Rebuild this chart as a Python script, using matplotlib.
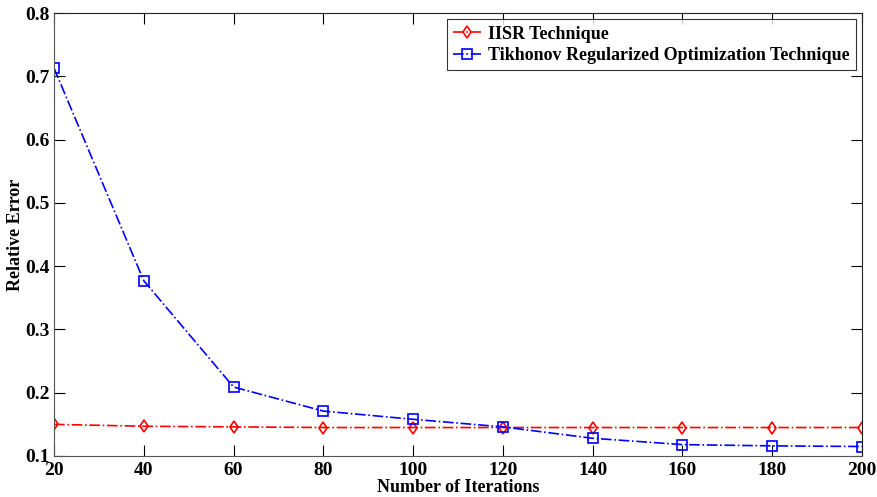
import matplotlib
matplotlib.use("Agg")
import matplotlib.pyplot as plt

iterations = [20, 40, 60, 80, 100, 120, 140, 160, 180, 200]
iisr_error = [0.150, 0.147, 0.146, 0.145, 0.145, 0.145, 0.145, 0.145, 0.145, 0.145]
tikhonov_error = [0.713, 0.377, 0.209, 0.171, 0.158, 0.146, 0.128, 0.118, 0.116, 0.115]

plt.rcParams["font.family"] = "Liberation Serif"
plt.rcParams["font.weight"] = "bold"

fig = plt.figure(figsize=(8.78, 4.97), dpi=100)
ax = fig.add_axes([0.0615, 0.0825, 0.9203, 0.8913])

ax.plot(iterations, iisr_error, color="red", linestyle="-.", marker="d",
        markersize=6, markerfacecolor="none", markeredgewidth=1.2, linewidth=1.2,
        label="IISR Technique")
ax.plot(iterations, tikhonov_error, color="blue", linestyle="-.", marker="s",
        markersize=7, markerfacecolor="none", markeredgewidth=1.2, linewidth=1.2,
        label="Tikhonov Regularized Optimization Technique")

ax.set_xlim(20, 200)
ax.set_ylim(0.1, 0.8)
ax.set_xticks(range(20, 201, 20))
ax.set_yticks([0.1, 0.2, 0.3, 0.4, 0.5, 0.6, 0.7, 0.8])
ax.set_yticklabels(["0.1", "0.2", "0.3", "0.4", "0.5", "0.6", "0.7", "0.8"])
ax.tick_params(direction="in", labelsize=14, length=8, top=True, right=True, pad=4)
ax.tick_params(axis="y", pad=3)
for lab in ax.get_xticklabels() + ax.get_yticklabels():
    lab.set_fontweight("bold")

ax.set_xlabel("Number of Iterations", fontsize=13, fontweight="bold", labelpad=0)
ax.set_ylabel("Relative Error", fontsize=13, fontweight="bold", labelpad=1)

for side in ["left", "bottom"]:
    ax.spines[side].set_color("#555555")
for side in ["top", "right"]:
    ax.spines[side].set_color("#222222")

leg = ax.legend(loc="upper right", fontsize=13, frameon=True, fancybox=False,
                edgecolor="black", borderpad=0.35, handlelength=1.5,
                borderaxespad=0.35, labelspacing=0.25, handletextpad=0.4)
leg.get_frame().set_linewidth(0.8)
for t in leg.get_texts():
    t.set_fontweight("bold")

fig.savefig("out.png", dpi=100)
